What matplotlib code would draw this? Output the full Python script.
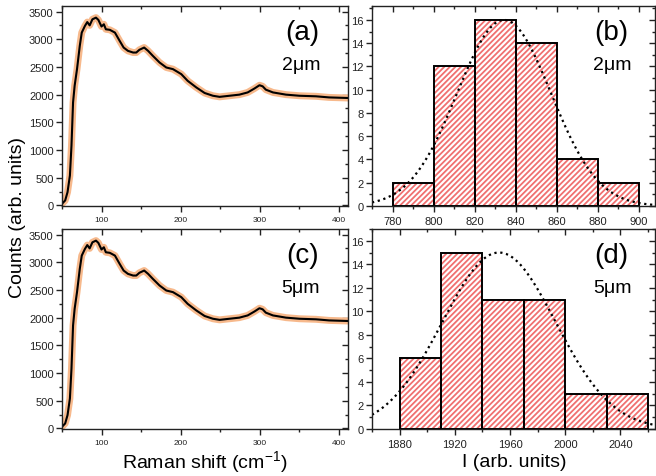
import matplotlib
matplotlib.use('Agg')
import matplotlib.pyplot as plt
from matplotlib.ticker import MultipleLocator
import numpy as np

plt.rcParams['font.family'] = ['Liberation Sans', 'DejaVu Sans']
plt.rcParams['mathtext.default'] = 'regular'
plt.rcParams['hatch.linewidth'] = 1.3

# Raman spectrum (same sample spot for both grain sizes)
raman_shift = [50, 54, 57, 60, 62, 64, 66, 69, 72.5, 75, 79, 82, 85, 88.5, 93,
               96, 100, 103, 105.5, 110.5, 117, 123, 128, 133.5, 140, 144, 148,
               154, 159, 165, 173.5, 182, 190.5, 201, 209, 220, 230.5, 241,
               249.5, 262, 274.5, 285, 293.5, 300, 304, 308, 317, 333.5, 350.5,
               371.5, 388, 411]
counts_2um = [30, 90, 240, 540, 1080, 1860, 2160, 2460, 2880, 3120, 3240, 3310,
              3250, 3360, 3390, 3350, 3230, 3270, 3180, 3170, 3120, 2970, 2850,
              2790, 2760, 2760, 2810, 2850, 2790, 2700, 2580, 2490, 2460, 2370,
              2250, 2130, 2030, 1980, 1960, 1980, 2000, 2040, 2110, 2170, 2150,
              2090, 2040, 2000, 1980, 1970, 1950, 1940]
counts_5um = counts_2um

# intensity histograms
bins_2um = [780, 800, 820, 840, 860, 880]
hist_2um = [2, 12, 16, 14, 4, 2]
bins_5um = [1880, 1910, 1940, 1970, 2000, 2030]
hist_5um = [6, 15, 11, 11, 3, 3]

# gaussian fits: amplitude, centre, sigma
fit_2um = (16.0, 834.4, 22.9)
fit_5um = (15.0, 1952.0, 41.0)

W, H = 656, 477
fig = plt.figure(figsize=(W / 100, H / 100), dpi=100)


def box(x0, y0, x1, y1):
    return [x0 / W, 1 - y1 / H, (x1 - x0) / W, (y1 - y0) / H]


ax_a = fig.add_axes(box(62, 7, 348, 207))
ax_b = fig.add_axes(box(372, 7, 655, 207))
ax_c = fig.add_axes(box(62, 230, 348, 430))
ax_d = fig.add_axes(box(372, 230, 655, 430))

orange = '#f7b98c'
hatch_red = '#f07070'


def style(ax, xmaj, xmin, ymaj, ymin, xsize, ysize):
    ax.xaxis.set_major_locator(MultipleLocator(xmaj))
    ax.xaxis.set_minor_locator(MultipleLocator(xmin))
    ax.yaxis.set_major_locator(MultipleLocator(ymaj))
    ax.yaxis.set_minor_locator(MultipleLocator(ymin))
    ax.tick_params(which='both', direction='out', right=True, top=True,
                   width=1.0, colors='#222222')
    ax.tick_params(which='major', length=4)
    ax.tick_params(which='minor', length=2)
    ax.tick_params(axis='x', labelsize=xsize, pad=3)
    ax.tick_params(axis='y', labelsize=ysize, pad=2)
    # top and right ticks point inwards
    for t in ax.xaxis.get_major_ticks() + ax.xaxis.get_minor_ticks():
        t.tick2line.set_marker(3)
    for t in ax.yaxis.get_major_ticks() + ax.yaxis.get_minor_ticks():
        t.tick2line.set_marker(0)
    for s in ax.spines.values():
        s.set_linewidth(1.0)
        s.set_color('#222222')


for ax, counts in [(ax_a, counts_2um), (ax_c, counts_5um)]:
    ax.plot(raman_shift, counts, color=orange, lw=5, solid_joinstyle='round')
    ax.plot(raman_shift, counts, color='black', lw=1.5)
    ax.set_xlim(50, 412)
    ax.set_ylim(-10, 3600)
    style(ax, 100, 50, 500, 250, 6, 8)

for ax, edges, hist, fit, width, xlim in [
        (ax_b, bins_2um, hist_2um, fit_2um, 20, (770, 908)),
        (ax_d, bins_5um, hist_5um, fit_5um, 30, (1860, 2065))]:
    ax.bar(edges, hist, width=width, align='edge', facecolor='white',
           edgecolor=hatch_red, hatch='//////', linewidth=0)
    ax.bar(edges, hist, width=width, align='edge', fill=False,
           edgecolor='black', linewidth=1.4)
    amp, mu, sig = fit
    xs = np.linspace(xlim[0], xlim[1], 400)
    ax.plot(xs, amp * np.exp(-(xs - mu) ** 2 / (2 * sig ** 2)),
            color='black', ls=':', lw=1.6)
    ax.set_xlim(*xlim)

ax_b.set_ylim(0, 17.2)
ax_d.set_ylim(0, 17.0)
style(ax_b, 20, 10, 2, 1, 8, 8)
style(ax_d, 40, 20, 2, 1, 8, 8)

for ax, tag, size in [(ax_a, '(a)', '2μm'), (ax_b, '(b)', '2μm'),
                      (ax_c, '(c)', '5μm'), (ax_d, '(d)', '5μm')]:
    dx = 0.0 if ax in (ax_a, ax_c) else 0.005
    ax.text(0.84 + dx, 0.87, tag, transform=ax.transAxes, fontsize=20,
            ha='center', va='center')
    ax.text(0.835 + 3 * dx, 0.705, size, transform=ax.transAxes, fontsize=14,
            ha='center', va='center')

fig.text(18 / W, 1 - 218 / H, 'Counts (arb. units)', rotation=90,
         ha='center', va='center', fontsize=14)
fig.text(205 / W, 1 - 462 / H, 'Raman shift (cm$^{-1}$)',
         ha='center', va='center', fontsize=14)
fig.text(514 / W, 1 - 463 / H, 'I (arb. units)',
         ha='center', va='center', fontsize=14)

fig.savefig('out.png', dpi=100)
